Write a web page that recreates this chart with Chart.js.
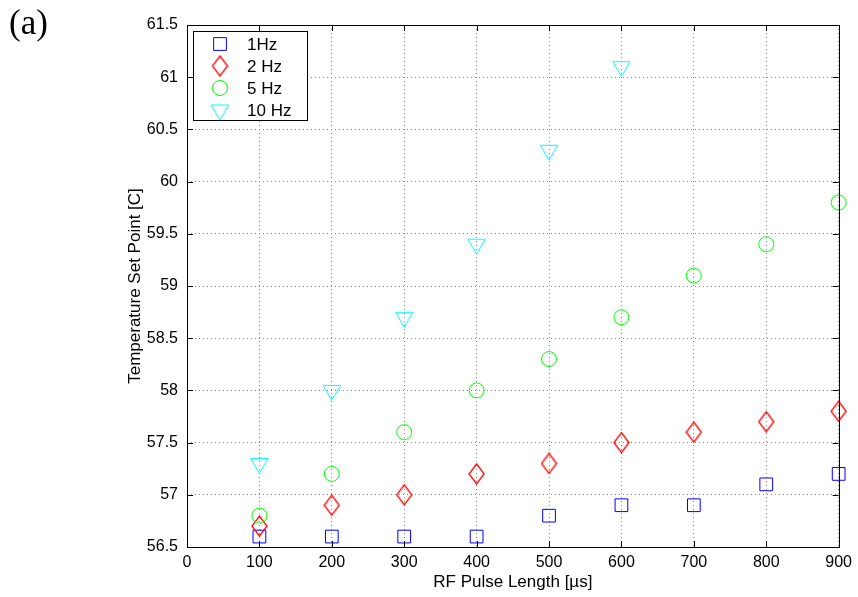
<!DOCTYPE html>
<html>
<head>
<meta charset="utf-8">
<script src="https://cdn.jsdelivr.net/npm/chart.js@4/dist/chart.umd.min.js"></script>
<style>
  html, body { margin: 0; padding: 0; background: #fff; }
  #wrap { width: 858px; height: 597px; }
</style>
</head>
<body>
<div id="wrap"><canvas id="chart-temp"></canvas></div>
<script>
// pulse length in microseconds
const pulseLength = [100, 200, 300, 400, 500, 600, 700, 800, 900];
const pulseLength10 = [100, 200, 300, 400, 500, 600];

// temperature set point [C] per repetition rate
const temp1Hz = [56.6, 56.6, 56.6, 56.6, 56.8, 56.9, 56.9, 57.1, 57.2];
const temp2Hz = [56.7, 56.9, 57.0, 57.2, 57.3, 57.5, 57.6, 57.7, 57.8];
const temp5Hz = [56.8, 57.2, 57.6, 58.0, 58.3, 58.7, 59.1, 59.4, 59.8];
const temp10Hz = [57.3, 58.0, 58.7, 59.4, 60.3, 61.1];

const seriesLabels = ["1Hz", "2 Hz", "5 Hz", "10 Hz"];

function toPoints(xs, ys) {
  return xs.map((x, i) => ({ x: x, y: ys[i] }));
}

// diamond marker, taller than wide like matlab
function makeDiamond(color) {
  const c = document.createElement("canvas");
  c.width = 17;
  c.height = 22;
  const g = c.getContext("2d");
  g.strokeStyle = color;
  g.lineWidth = 1.3;
  g.beginPath();
  g.moveTo(8.5, 1);
  g.lineTo(16, 11);
  g.lineTo(8.5, 21);
  g.lineTo(1, 11);
  g.closePath();
  g.stroke();
  return c;
}
const diamondRed = makeDiamond("#ff0000");

const font = "'Liberation Sans', Arial, Helvetica, sans-serif";

// box, inward ticks, legend box and panel label
const framePlugin = {
  id: "frame",
  afterDraw(chart) {
    const ctx = chart.ctx;
    const a = chart.chartArea;
    const xs = chart.scales.x;
    const ys = chart.scales.y;
    ctx.save();
    ctx.strokeStyle = "#000";
    ctx.lineWidth = 1;
    ctx.strokeRect(Math.round(a.left) + 0.5, Math.round(a.top) + 0.5,
      Math.round(a.right - a.left), Math.round(a.bottom - a.top));
    ctx.beginPath();
    xs.ticks.forEach((t) => {
      const px = Math.round(xs.getPixelForValue(t.value)) + 0.5;
      ctx.moveTo(px, a.bottom);
      ctx.lineTo(px, a.bottom - 6);
      ctx.moveTo(px, a.top);
      ctx.lineTo(px, a.top + 6);
    });
    ys.ticks.forEach((t) => {
      const py = Math.round(ys.getPixelForValue(t.value)) + 0.5;
      ctx.moveTo(a.left, py);
      ctx.lineTo(a.left + 6, py);
      ctx.moveTo(a.right, py);
      ctx.lineTo(a.right - 6, py);
    });
    ctx.stroke();

    // legend
    const lx = a.left + 6, ly = a.top + 6, lw = 114, lh = 89;
    ctx.fillStyle = "#fff";
    ctx.fillRect(lx, ly, lw, lh);
    ctx.strokeRect(lx + 0.5, ly + 0.5, lw, lh);
    chart.data.datasets.forEach((ds, i) => {
      const cy = ly + 13 + i * 22;
      const cx = lx + 27;
      ctx.strokeStyle = ds.borderColor;
      ctx.fillStyle = "rgba(0,0,0,0)";
      ctx.lineWidth = 1;
      Chart.helpers.drawPoint(ctx, {
        pointStyle: ds.pointStyle,
        radius: ds.pointRadius,
        rotation: ds.rotation || 0,
        borderWidth: 1
      }, cx, cy);
      ctx.fillStyle = "#000";
      ctx.font = "17px " + font;
      ctx.textBaseline = "middle";
      ctx.textAlign = "left";
      ctx.fillText(ds.label, lx + 54, cy + 1);
    });

    ctx.fillStyle = "#000";
    ctx.font = "35px 'Liberation Serif', 'Times New Roman', serif";
    ctx.textBaseline = "middle";
    ctx.textAlign = "left";
    ctx.fillText("(a)", 9, 25);
    ctx.restore();
  }
};

const ctxTemp = document.getElementById("chart-temp");

new Chart(ctxTemp, {
  type: "scatter",
  data: {
    datasets: [
      {
        label: seriesLabels[0],
        data: toPoints(pulseLength, temp1Hz),
        order: 4,
        pointStyle: "rect",
        pointRadius: 9,
        pointHoverRadius: 9,
        borderColor: "#0000ff",
        backgroundColor: "rgba(0,0,0,0)",
        borderWidth: 1,
      },
      {
        label: seriesLabels[1],
        data: toPoints(pulseLength, temp2Hz),
        order: 3,
        pointStyle: diamondRed,
        pointRadius: 10,
        borderColor: "#ff0000",
        backgroundColor: "rgba(0,0,0,0)",
        borderWidth: 1,
      },
      {
        label: seriesLabels[2],
        data: toPoints(pulseLength, temp5Hz),
        order: 2,
        pointStyle: "circle",
        pointRadius: 7.5,
        pointHoverRadius: 7.5,
        borderColor: "#00ff00",
        backgroundColor: "rgba(0,0,0,0)",
        borderWidth: 1,
      },
      {
        label: seriesLabels[3],
        data: toPoints(pulseLength10, temp10Hz),
        order: 1,
        pointStyle: "triangle",
        rotation: 180,
        pointRotation: 180,
        pointRadius: 10,
        pointHoverRadius: 10,
        borderColor: "#00ffff",
        backgroundColor: "rgba(0,0,0,0)",
        borderWidth: 1,
      },
    ],
  },
  plugins: [framePlugin],
  options: {
    responsive: true,
    maintainAspectRatio: false,
    animation: false,
    clip: false,
    layout: { padding: { left: 125, top: 25, right: 19, bottom: 0 } },
    plugins: {
      legend: { display: false },
      tooltip: { enabled: false },
    },
    scales: {
      x: {
        type: "linear",
        min: 0,
        max: 900,
        ticks: { stepSize: 100, color: "#000", font: { size: 16, family: font }, padding: 6 },
        grid: { color: "#888", drawTicks: false, lineWidth: 1 },
        border: { display: false, dash: [1, 3] },
        title: { display: true, text: "RF Pulse Length [\u00b5s]", color: "#000", font: { size: 17, family: font }, padding: { top: 0 } },
        afterFit(scale) { scale.height = 50; },
      },
      y: {
        min: 56.5,
        max: 61.5,
        ticks: {
          stepSize: 0.5,
          color: "#000",
          font: { size: 16, family: font },
          padding: 9,
          callback: (v) => String(Math.round(v * 10) / 10),
        },
        grid: { color: "#888", drawTicks: false, lineWidth: 1 },
        border: { display: false, dash: [1, 3] },
        title: { display: true, text: "Temperature Set Point [C]", color: "#000", font: { size: 17, family: font }, padding: { top: 0, bottom: 0 } },
        afterFit(scale) { scale.width = 62; },
      },
    },
  },
});
</script>
</body>
</html>
